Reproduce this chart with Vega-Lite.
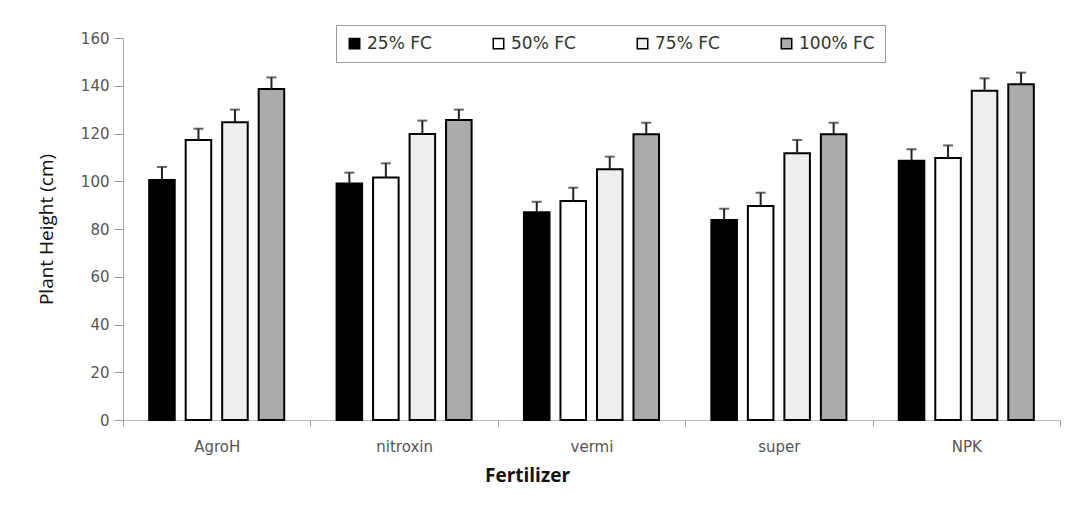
{
  "$schema": "https://vega.github.io/schema/vega-lite/v6.json",
  "autosize": {"type": "none"},
  "padding": {"left": 123, "top": 38, "right": 7, "bottom": 90},
  "width": 937,
  "height": 382,
  "background": "white",
  "config": {
    "view": {"stroke": null},
    "font": "DejaVu Sans"
  },
  "data": {
    "values": [
      {"fertilizer": "AgroH", "level": "25% FC", "value": 100.5, "upper": 106},
      {"fertilizer": "AgroH", "level": "50% FC", "value": 117.3, "upper": 122},
      {"fertilizer": "AgroH", "level": "75% FC", "value": 124.7, "upper": 130},
      {"fertilizer": "AgroH", "level": "100% FC", "value": 138.6, "upper": 143.5},
      {"fertilizer": "nitroxin", "level": "25% FC", "value": 99.1, "upper": 103.6},
      {"fertilizer": "nitroxin", "level": "50% FC", "value": 101.6, "upper": 107.5},
      {"fertilizer": "nitroxin", "level": "75% FC", "value": 119.8, "upper": 125.4},
      {"fertilizer": "nitroxin", "level": "100% FC", "value": 125.7, "upper": 130},
      {"fertilizer": "vermi", "level": "25% FC", "value": 87, "upper": 91.4},
      {"fertilizer": "vermi", "level": "50% FC", "value": 91.7, "upper": 97.3},
      {"fertilizer": "vermi", "level": "75% FC", "value": 105, "upper": 110.3},
      {"fertilizer": "vermi", "level": "100% FC", "value": 119.7, "upper": 124.5},
      {"fertilizer": "super", "level": "25% FC", "value": 83.8, "upper": 88.5},
      {"fertilizer": "super", "level": "50% FC", "value": 89.6, "upper": 95.2},
      {"fertilizer": "super", "level": "75% FC", "value": 111.7, "upper": 117.3},
      {"fertilizer": "super", "level": "100% FC", "value": 119.7, "upper": 124.5},
      {"fertilizer": "NPK", "level": "25% FC", "value": 108.6, "upper": 113.4},
      {"fertilizer": "NPK", "level": "50% FC", "value": 109.7, "upper": 115},
      {"fertilizer": "NPK", "level": "75% FC", "value": 137.9, "upper": 143.1},
      {"fertilizer": "NPK", "level": "100% FC", "value": 140.6, "upper": 145.5}
    ]
  },
  "encoding": {
    "x": {
      "field": "fertilizer",
      "type": "nominal",
      "sort": ["AgroH", "nitroxin", "vermi", "super", "NPK"],
      "scale": {"paddingInner": 0, "paddingOuter": 0},
      "axis": {
        "title": "Fertilizer",
        "titleFont": "Open Sans",
        "titleFontSize": 19,
        "titleFontWeight": "bold",
        "titleColor": "#111",
        "titleX": 404,
        "titlePadding": 12,
        "labelAngle": 0,
        "labelFont": "DejaVu Sans",
        "labelFontSize": 15,
        "labelColor": "#555",
        "labelPadding": 13,
        "tickBand": "extent",
        "tickSize": 6,
        "tickColor": "#999",
        "domainColor": "#bbb",
        "grid": false
      }
    },
    "xOffset": {
      "field": "level",
      "type": "nominal",
      "sort": ["25% FC", "50% FC", "75% FC", "100% FC"],
      "scale": {"paddingInner": 0.3, "paddingOuter": 0.717}
    }
  },
  "layer": [
    {
      "mark": {"type": "bar", "stroke": "black", "strokeWidth": 2},
      "encoding": {
        "y": {
          "field": "value",
          "type": "quantitative",
          "scale": {"domain": [0, 160]},
          "axis": {
            "title": "Plant Height (cm)",
            "titleFont": "Open Sans",
            "titleFontSize": 19,
            "titleFontWeight": "normal",
            "titleColor": "#111",
            "titlePadding": 24,
            "values": [0, 20, 40, 60, 80, 100, 120, 140, 160],
            "labelFont": "DejaVu Sans",
            "labelFontSize": 15,
            "labelColor": "#555",
            "labelPadding": 5,
            "tickSize": 9,
            "tickColor": "#999",
            "domainColor": "#aaa",
            "grid": false
          }
        },
        "color": {
          "field": "level",
          "type": "nominal",
          "sort": ["25% FC", "50% FC", "75% FC", "100% FC"],
          "scale": {
            "domain": ["25% FC", "50% FC", "75% FC", "100% FC"],
            "range": ["#000000", "#ffffff", "#eeeeee", "#ababab"]
          },
          "legend": {
            "title": null,
            "orient": "none",
            "legendX": 213,
            "legendY": -13,
            "direction": "horizontal",
            "columns": 4,
            "gridAlign": "all",
            "columnPadding": 47,
            "symbolType": "square",
            "symbolSize": 110,
            "symbolStrokeColor": "black",
            "symbolStrokeWidth": 1.5,
            "labelFont": "DejaVu Sans",
            "labelFontSize": 17,
            "labelColor": "#333",
            "labelOffset": 4,
            "padding": 10,
            "strokeColor": "#999"
          }
        }
      }
    },
    {
      "mark": {"type": "rule", "color": "#222", "strokeWidth": 2},
      "encoding": {
        "y": {"field": "value", "type": "quantitative"},
        "y2": {"field": "upper"}
      }
    },
    {
      "mark": {"type": "tick", "color": "#222", "thickness": 2, "size": 10},
      "encoding": {
        "y": {"field": "upper", "type": "quantitative"}
      }
    }
  ]
}
